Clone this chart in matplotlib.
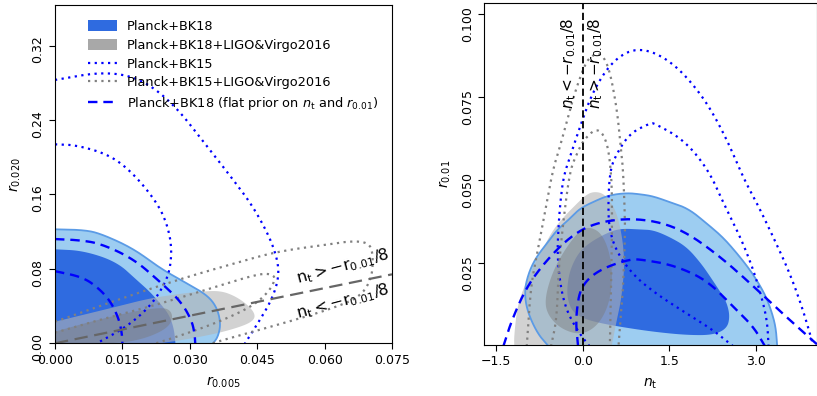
import numpy as np
import matplotlib
matplotlib.use('Agg')
import matplotlib.pyplot as plt
from matplotlib.patches import Patch
from matplotlib.lines import Line2D
from matplotlib.transforms import ScaledTranslation

# ---------------- left panel: r_0.005 vs r_0.020 ----------------
# Planck+BK18 (filled)
l_bk18_95_x = [0, 0.0063, 0.0100, 0.0174, 0.0234, 0.0293, 0.0338, 0.0360, 0.0369, 0.0363, 0.0352]
l_bk18_95_y = [0.1225, 0.1218, 0.1182, 0.102, 0.0806, 0.0645, 0.052, 0.039, 0.0215, 0.0071, 0.0]
l_bk18_68_x = [0, 0.0063, 0.0137, 0.0182, 0.0211, 0.0234, 0.0255, 0.0265, 0.0268]
l_bk18_68_y = [0.101, 0.0995, 0.0877, 0.068, 0.0555, 0.043, 0.030, 0.015, 0.0]
# Planck+BK18+LIGO&Virgo2016 (filled)
l_ligo_95_x = [0, 0.0137, 0.0211, 0.0286, 0.0323, 0.0367, 0.0400, 0.0430, 0.0446, 0.0441,
               0.0415, 0.0362, 0.0290, 0.0234]
l_ligo_95_y = [0.0232, 0.0393, 0.0484, 0.0537, 0.0555, 0.0566, 0.051, 0.041, 0.031, 0.024,
               0.018, 0.0107, 0.0040, 0.0]
l_ligo_68_x = [0, 0.0070, 0.0137, 0.0190, 0.0240, 0.0258, 0.0262, 0.0249, 0.0211, 0.0167, 0.0120]
l_ligo_68_y = [0.0125, 0.022, 0.030, 0.0355, 0.0385, 0.035, 0.026, 0.0161, 0.0071, 0.0017, 0.0]
# Planck+BK15 (dotted)
l_bk15_95_x = [0, 0.0108, 0.0189, 0.0263, 0.0338, 0.0397, 0.0441, 0.0479, 0.0497, 0.0497,
               0.0482, 0.0456, 0.0423]
l_bk15_95_y = [0.283, 0.292, 0.285, 0.258, 0.212, 0.1755, 0.1468, 0.113, 0.0865, 0.068,
               0.0465, 0.025, 0.0]
l_bk15_68_x = [0, 0.0048, 0.0122, 0.0174, 0.0226, 0.0249, 0.0260, 0.0256, 0.0241, 0.0211, 0.0160, 0.0093]
l_bk15_68_y = [0.2138, 0.213, 0.2024, 0.1827, 0.152, 0.129, 0.1038, 0.0788, 0.0608, 0.0393, 0.0178, 0.0]
# Planck+BK15+LIGO&Virgo2016 (dotted)
l_bk15l_95_x = [0, 0.0135, 0.0271, 0.0400, 0.0493, 0.0600, 0.0664, 0.0701, 0.0708, 0.0705,
                0.0680, 0.0615, 0.0508, 0.0420, 0.0350]
l_bk15l_95_y = [0.0232, 0.046, 0.068, 0.086, 0.0985, 0.1058, 0.1102, 0.1075, 0.0931, 0.070,
                0.050, 0.037, 0.0215, 0.010, 0.0]
l_bk15l_68_x = [0, 0.0105, 0.0211, 0.0340, 0.0420, 0.0464, 0.0486, 0.0490, 0.0475, 0.0440,
                0.0370, 0.0290, 0.0225]
l_bk15l_68_y = [0.0114, 0.026, 0.0393, 0.058, 0.070, 0.0752, 0.0735, 0.068, 0.055, 0.040,
                0.024, 0.010, 0.0]
# Planck+BK18 flat prior on n_t and r_0.01 (dashed)
l_flat_95_x = [0, 0.005, 0.010, 0.0174, 0.0234, 0.0280, 0.0304, 0.0311, 0.0312]
l_flat_95_y = [0.112, 0.111, 0.1075, 0.091, 0.066, 0.045, 0.025, 0.010, 0.0]
l_flat_68_x = [0, 0.0063, 0.0100, 0.0125, 0.0143, 0.0149, 0.0150]
l_flat_68_y = [0.0775, 0.071, 0.058, 0.044, 0.025, 0.010, 0.0]
# n_t = -r_0.01/8 boundary
l_bound_x = [0.0, 0.075]
l_bound_y = [0.0, 0.0741]

# ---------------- right panel: n_t vs r_0.01 ----------------
r_bk18_95_x = [-0.59, -0.79, -0.97, -1.01, -0.93, -0.80, -0.62, -0.45, -0.22, -0.05, 0.18, 0.45,
               0.76, 1.00, 1.22, 1.50, 1.83, 2.15, 2.42, 2.65, 2.88, 3.05, 3.19, 3.30, 3.35, 3.37]
r_bk18_95_y = [0.0, 0.004, 0.011, 0.017, 0.0225, 0.027, 0.031, 0.035, 0.0385, 0.0415, 0.0435, 0.0455,
               0.0462, 0.0458, 0.0452, 0.0435, 0.0415, 0.037, 0.033, 0.0285, 0.0235, 0.019, 0.0145,
               0.009, 0.005, 0.0]
r_bk18_68_x = [0.646, 1.00, 1.224, 1.50, 1.80, 2.05, 2.21, 2.40, 2.50, 2.55, 2.50, 2.26, 1.80, 1.22,
               0.646, 0.25, 0.0, -0.18, -0.26, -0.27, -0.22, -0.08, 0.10, 0.40]
r_bk18_68_y = [0.0355, 0.0352, 0.035, 0.033, 0.030, 0.025, 0.021, 0.016, 0.013, 0.009, 0.0054, 0.0034,
               0.0034, 0.0044, 0.0059, 0.0072, 0.0085, 0.0105, 0.014, 0.018, 0.023, 0.028, 0.031, 0.034]
r_ligo_95_x = [-1.185, -1.19, -1.13, -0.99, -0.856, -0.70, -0.52, -0.30, -0.10, 0.05, 0.184, 0.36,
               0.50, 0.59, 0.66, 0.704, 0.72, 0.704, 0.66, 0.59, 0.535, 0.50]
r_ligo_95_y = [0.0, 0.003, 0.0125, 0.019, 0.024, 0.029, 0.035, 0.0395, 0.043, 0.0455, 0.0466, 0.0461,
               0.043, 0.040, 0.035, 0.030, 0.025, 0.020, 0.0135, 0.0079, 0.003, 0.0]
r_ligo_68_x = [0.127, 0.33, 0.473, 0.52, 0.444, 0.243, -0.047, -0.393, -0.624, -0.653, -0.51,
               -0.277, -0.047]
r_ligo_68_y = [0.036, 0.034, 0.028, 0.020, 0.0119, 0.0059, 0.0034, 0.0054, 0.0099, 0.0149, 0.023,
               0.030, 0.035]
r_bk15_95_x = [0.12, -0.02, -0.20, -0.32, -0.40, -0.44, -0.42, -0.39, -0.335, -0.22, -0.05, 0.184,
               0.54, 0.976, 1.52, 2.05, 2.45, 2.80, 3.02, 3.30, 3.59, 3.82, 4.0]
r_bk15_95_y = [0.0, 0.003, 0.008, 0.013, 0.020, 0.028, 0.036, 0.043, 0.051, 0.0571, 0.066, 0.0772,
               0.0865, 0.0902, 0.0862, 0.0762, 0.0642, 0.0501, 0.0431, 0.033, 0.022, 0.0109, 0.0]
r_bk15_68_x = [2.61, 2.26, 1.80, 1.30, 0.90, 0.60, 0.46, 0.44, 0.473, 0.589, 0.82, 1.17, 1.24, 1.76,
               2.18, 2.44, 2.73, 2.96, 3.13, 3.20, 3.22]
r_bk15_68_y = [0.0, 0.0049, 0.0099, 0.0155, 0.021, 0.028, 0.035, 0.043, 0.0531, 0.0581, 0.0642,
               0.0672, 0.0672, 0.0621, 0.0531, 0.0431, 0.033, 0.023, 0.013, 0.0069, 0.0]
r_bk15l_95_x = [-0.97, -0.90, -0.80, -0.68, -0.52, -0.393, -0.16, 0.02, 0.127, 0.30, 0.45, 0.59,
                0.66, 0.70, 0.73, 0.733, 0.70, 0.676, 0.62]
r_bk15l_95_y = [0.0, 0.018, 0.027, 0.038, 0.0531, 0.0601, 0.0752, 0.0842, 0.0872, 0.0885, 0.0845,
                0.072, 0.060, 0.0531, 0.040, 0.033, 0.018, 0.013, 0.0]
r_bk15l_68_x = [-0.55, -0.45, -0.42, -0.335, -0.22, -0.10, 0.01, 0.26, 0.43, 0.50, 0.51, 0.50, 0.47]
r_bk15l_68_y = [0.0, 0.008, 0.023, 0.038, 0.0531, 0.058, 0.0621, 0.0661, 0.0615, 0.0511, 0.040,
                0.025, 0.0]
r_flat_95_x = [-1.376, -1.23, -0.97, -0.624, -0.22, 0.184, 0.762, 1.34, 1.83, 2.38, 2.84, 3.30, 3.68, 4.1]
r_flat_95_y = [0.0, 0.0079, 0.018, 0.026, 0.033, 0.037, 0.0386, 0.0375, 0.034, 0.027, 0.020, 0.0125,
               0.0065, 0.0]
r_flat_68_x = [-0.08, -0.115, -0.104, -0.047, 0.127, 0.416, 0.82, 1.0, 1.57, 2.15, 2.61, 2.96, 3.16]
r_flat_68_y = [0.0, 0.006, 0.0109, 0.017, 0.021, 0.024, 0.0262, 0.0262, 0.0245, 0.020, 0.0119,
               0.0059, 0.0]

legend_labels = ['Planck+BK18', 'Planck+BK18+LIGO&Virgo2016', 'Planck+BK15',
                 'Planck+BK15+LIGO&Virgo2016',
                 r'Planck+BK18 (flat prior on $n_{\rm t}$ and $r_{0.01}$)']

BLUE_LIGHT = '#9dcdf1'
BLUE_EDGE = '#5b9be6'
BLUE_DARK = '#2f6be0'
GRAY_LIGHT = '#b4b4b4'
GRAY_DARK = '#7a7a7a'
LINE_BLUE = '#0000ff'
LINE_GRAY = '#808080'
DOT = (0, (1, 2))
DASH = (0, (4, 2.5))


def smooth(x, y, n=4, closed=False):
    # chaikin corner cutting so the read-off outlines look like contours
    p = np.column_stack([x, y]).astype(float)
    for _ in range(n):
        a = p if closed else p[:-1]
        b = np.roll(p, -1, axis=0) if closed else p[1:]
        q = np.empty((2 * len(a), 2))
        q[0::2] = 0.75 * a + 0.25 * b
        q[1::2] = 0.25 * a + 0.75 * b
        if not closed:
            q = np.vstack([p[0], q, p[-1]])
        p = q
    return p[:, 0], p[:, 1]


def fill_region(ax, x, y, color, alpha=1.0, closed=False, corner=None, edge=None):
    sx, sy = smooth(x, y, closed=closed)
    if corner is not None:
        sx = np.append(sx, corner[0])
        sy = np.append(sy, corner[1])
    ax.fill(sx, sy, color=color, alpha=alpha, lw=0)
    if edge is not None:
        ex, ey = smooth(x, y, closed=closed)
        ax.plot(ex, ey, color=edge, lw=1.3)


def line(ax, x, y, color, ls, lw=1.6):
    sx, sy = smooth(x, y)
    ax.plot(sx, sy, color=color, ls=ls, lw=lw)


plt.rcParams['font.family'] = ['DejaVu Sans']
plt.rcParams['mathtext.fontset'] = 'dejavusans'

fig = plt.figure(figsize=(8.17, 3.96), dpi=100)
ax1 = fig.add_axes([0.0673, 0.1331, 0.4125, 0.8535])
ax2 = fig.add_axes([0.5928, 0.1295, 0.4072, 0.8622])

# left panel
fill_region(ax1, l_bk18_95_x, l_bk18_95_y, BLUE_LIGHT, corner=(0, 0), edge=BLUE_EDGE)
fill_region(ax1, l_bk18_68_x, l_bk18_68_y, BLUE_DARK, corner=(0, 0))
fill_region(ax1, l_ligo_95_x, l_ligo_95_y, GRAY_LIGHT, alpha=0.6, corner=(0, 0))
fill_region(ax1, l_ligo_68_x, l_ligo_68_y, GRAY_DARK, alpha=0.45, corner=(0, 0))
line(ax1, l_bk15_95_x, l_bk15_95_y, LINE_BLUE, DOT)
line(ax1, l_bk15_68_x, l_bk15_68_y, LINE_BLUE, DOT)
line(ax1, l_bk15l_95_x, l_bk15l_95_y, LINE_GRAY, DOT)
line(ax1, l_bk15l_68_x, l_bk15l_68_y, LINE_GRAY, DOT)
line(ax1, l_flat_95_x, l_flat_95_y, LINE_BLUE, DASH, lw=1.7)
line(ax1, l_flat_68_x, l_flat_68_y, LINE_BLUE, DASH, lw=1.7)
ax1.plot(l_bound_x, l_bound_y, color='#666666', ls=(0, (6, 3)), lw=1.6)
ax1.text(0.0641, 0.083, r'$\mathrm{n_t} > -\mathrm{r}_{0.01}/8$', rotation=15,
         ha='center', va='center', fontsize=11.5)
ax1.text(0.0641, 0.0444, r'$\mathrm{n_t} < -\mathrm{r}_{0.01}/8$', rotation=15,
         ha='center', va='center', fontsize=11.5)

ax1.set_xlim(0, 0.075)
ax1.set_ylim(0, 0.3632)
ax1.set_xticks([0.0, 0.015, 0.030, 0.045, 0.060, 0.075])
ax1.set_xticklabels(['0.000', '0.015', '0.030', '0.045', '0.060', '0.075'])
ax1.set_yticks([0.0, 0.08, 0.16, 0.24, 0.32])
ax1.set_yticklabels(['0.00', '0.08', '0.16', '0.24', '0.32'], rotation=90, va='center')
ax1.set_xlabel(r'$r_{0.005}$', fontsize=10, labelpad=6)
ax1.set_ylabel(r'$r_{0.020}$', fontsize=10, labelpad=6)

handles = [Patch(facecolor=BLUE_DARK, edgecolor='none'),
           Patch(facecolor='#a8a8a8', edgecolor='none'),
           Line2D([], [], color=LINE_BLUE, ls=DOT, lw=1.6),
           Line2D([], [], color=LINE_GRAY, ls=DOT, lw=1.6),
           Line2D([], [], color=LINE_BLUE, ls=DASH, lw=1.7)]
ax1.legend(handles, legend_labels, loc='upper left', bbox_to_anchor=(0.083, 0.972),
           frameon=False, fontsize=9.3, handlelength=2.2, handleheight=0.9,
           handletextpad=0.8, labelspacing=0.45, borderaxespad=0.0)

# right panel
fill_region(ax2, r_bk18_95_x, r_bk18_95_y, BLUE_LIGHT, edge=BLUE_EDGE)
fill_region(ax2, r_bk18_68_x, r_bk18_68_y, BLUE_DARK, closed=True)
fill_region(ax2, r_ligo_95_x, r_ligo_95_y, GRAY_LIGHT, alpha=0.6)
fill_region(ax2, r_ligo_68_x, r_ligo_68_y, GRAY_DARK, alpha=0.45, closed=True)
line(ax2, r_bk15_95_x, r_bk15_95_y, LINE_BLUE, DOT)
line(ax2, r_bk15_68_x, r_bk15_68_y, LINE_BLUE, DOT)
line(ax2, r_bk15l_95_x, r_bk15l_95_y, LINE_GRAY, DOT)
line(ax2, r_bk15l_68_x, r_bk15l_68_y, LINE_GRAY, DOT)
line(ax2, r_flat_95_x, r_flat_95_y, LINE_BLUE, DASH, lw=1.7)
line(ax2, r_flat_68_x, r_flat_68_y, LINE_BLUE, DASH, lw=1.7)
ax2.axvline(0.0, color='black', ls=(0, (4, 2)), lw=1.3)
ax2.text(-0.237, 0.0853, r'$n_{\rm t} < -r_{0.01}/8$', rotation=90,
         ha='center', va='center', fontsize=11)
ax2.text(0.23, 0.0853, r'$n_{\rm t} > -r_{0.01}/8$', rotation=90,
         ha='center', va='center', fontsize=11)

ax2.set_xlim(-1.705, 4.06)
ax2.set_ylim(0.0005, 0.1033)
ax2.set_xticks([-1.5, 0.0, 1.5, 3.0])
ax2.set_xticklabels(['\u22121.5', '0.0', '1.5', '3.0'])
ax2.set_yticks([0.025, 0.050, 0.075, 0.100])
ax2.set_yticklabels(['0.025', '0.050', '0.075', '0.100'], rotation=90, va='center')
ax2.set_xlabel(r'$n_{\rm t}$', fontsize=10, labelpad=6)
ax2.set_ylabel(r'$r_{0.01}$', fontsize=10, labelpad=6)

for ax in (ax1, ax2):
    ax.tick_params(labelsize=9, length=4, width=0.8)

# rotated y labels sit a little below their ticks in the original
for ax, shift in ((ax1, -0.04), (ax2, -0.10)):
    for lab in ax.get_yticklabels():
        lab.set_transform(lab.get_transform() + ScaledTranslation(0, shift, fig.dpi_scale_trans))

fig.savefig('out.png', dpi=100)
